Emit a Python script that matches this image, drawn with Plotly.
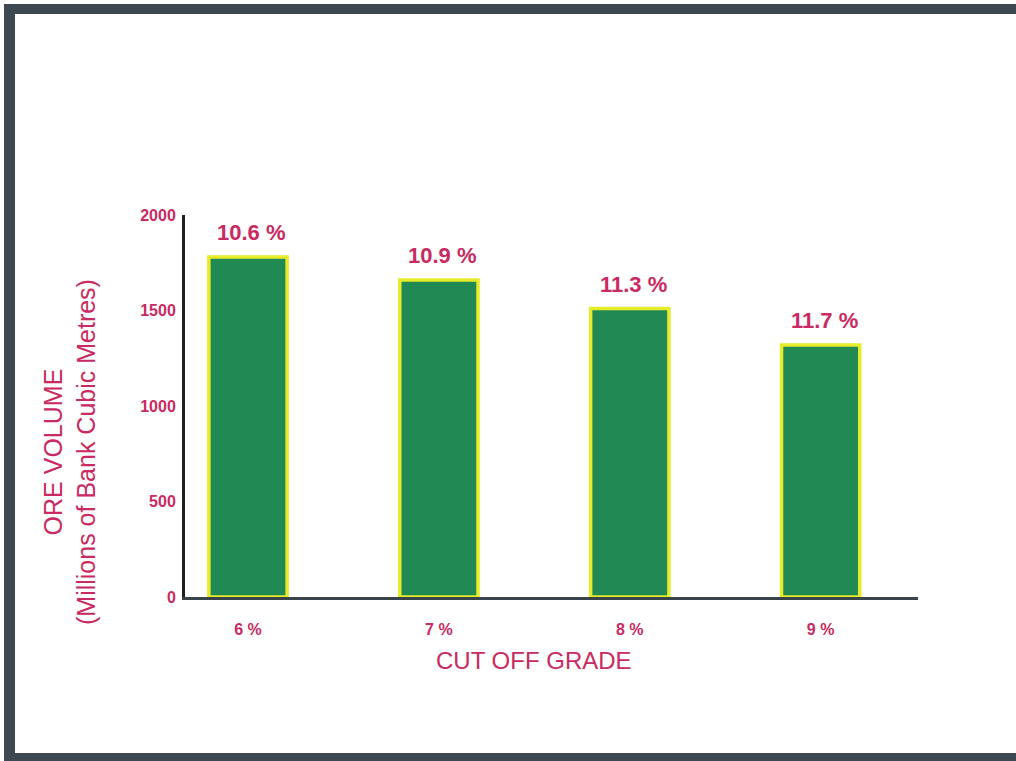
import plotly.graph_objects as go

# Ore volume by cut-off grade, with the average grade above each bar
cutoff_grades = ["6 %", "7 %", "8 %", "9 %"]
ore_volume = [1780, 1660, 1510, 1320]
avg_grade_labels = ["10.6 %", "10.9 %", "11.3 %", "11.7 %"]
y_ticks = [0, 500, 1000, 1500, 2000]
y_tick_text = ["0", "500", "1000", "1500", "2000"]

W, H = 1016, 761
L, R, T, B = 185, 98, 215, 164
PINK = "#c92a61"
FONT = "Liberation Sans, Arial, sans-serif"


def px_x(p):
    return (p - L) / (W - L - R)


def px_y(p):
    return 1 - (p - T) / (H - T - B)


fig = go.Figure()
fig.add_trace(go.Bar(
    x=list(range(len(cutoff_grades))),
    y=ore_volume,
    width=0.41,
    marker=dict(color="#218a54", line=dict(color="#e6ec2a", width=3.5)),
    hoverinfo="skip",
))

for i, (v, lab) in enumerate(zip(ore_volume, avg_grade_labels)):
    fig.add_annotation(
        x=i, y=v, text=lab, showarrow=False, yanchor="bottom",
        yshift=10, xshift=4,
        font=dict(family=FONT, size=22, color=PINK, weight="bold"),
    )

# Axis titles
fig.add_annotation(
    xref="paper", yref="paper", x=px_x(534), y=px_y(660),
    xanchor="center", yanchor="middle",
    text="CUT OFF GRADE", showarrow=False,
    font=dict(family=FONT, size=24, color=PINK),
)
fig.add_annotation(
    xref="paper", yref="paper", x=px_x(69), y=px_y(452),
    xanchor="center", yanchor="middle",
    text="ORE VOLUME<br>(Millions of Bank Cubic Metres)", textangle=-90,
    showarrow=False,
    font=dict(family=FONT, size=25, color=PINK),
)

# Dark page frame
frame = "#3d4850"
fig.add_shape(type="rect", xref="paper", yref="paper",
              x0=px_x(4), x1=px_x(15), y0=px_y(761), y1=px_y(4),
              fillcolor=frame, line_width=0, layer="below")
fig.add_shape(type="rect", xref="paper", yref="paper",
              x0=px_x(4), x1=px_x(1016), y0=px_y(14), y1=px_y(4),
              fillcolor=frame, line_width=0, layer="below")
fig.add_shape(type="rect", xref="paper", yref="paper",
              x0=px_x(4), x1=px_x(1016), y0=px_y(761), y1=px_y(753),
              fillcolor=frame, line_width=0, layer="below")

fig.update_layout(
    width=W, height=H,
    margin=dict(l=L, r=R, t=T, b=B),
    paper_bgcolor="white", plot_bgcolor="white",
    showlegend=False,
)
fig.update_xaxes(
    range=[-0.33, 3.51],
    tickvals=list(range(len(cutoff_grades))),
    ticktext=cutoff_grades,
    showgrid=False, zeroline=False,
    showline=True, linecolor="#39434a", linewidth=3,
    ticks="", ticklabelstandoff=16,
    tickfont=dict(family=FONT, size=16, color=PINK, weight="bold"),
)
fig.update_yaxes(
    range=[0, 2000],
    tickvals=y_ticks, ticktext=y_tick_text,
    showgrid=False, zeroline=False,
    showline=True, linecolor="#1e1e1e", linewidth=3,
    ticks="", ticklabelstandoff=3,
    tickfont=dict(family=FONT, size=16, color=PINK, weight="bold"),
)

fig.write_html("out.html")
